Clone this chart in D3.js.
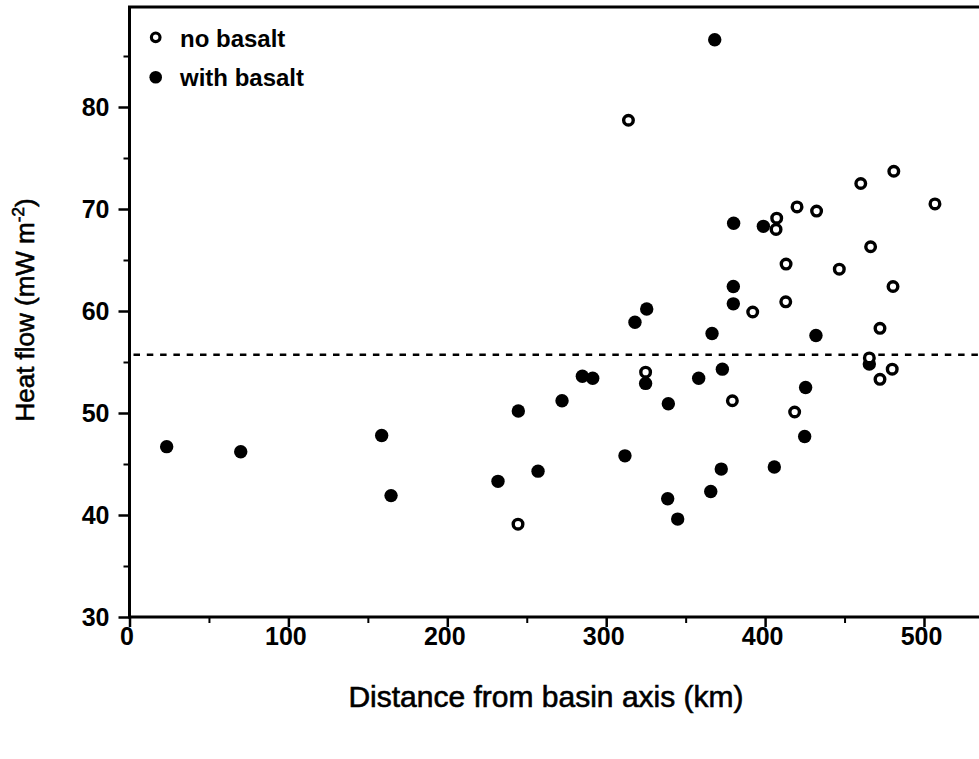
<!DOCTYPE html>
<html lang="en">
	<head>
		<meta charset="utf-8">
		<title>heat flow vs distance</title>
		<script type="text/javascript" src="https://cdn.jsdelivr.net/npm/d3@7/dist/d3.min.js"></script>
		<style type="text/css">
			body{margin:0;background:#fff}
			text{font-family:"Liberation Sans",Arial,sans-serif;fill:#000}
		</style>
	</head>
	<body>
		<div id="chart"></div>
		<script type="text/javascript">

// no basalt (open circles)
var openKm = [244.5,314,324.8,379.4,392.2,407.3,406.9,413.2,413.0,418.6,420.1,432.4,446.7,460.2,466.4,465.6,472.3,472.3,480.5,480,481,506.9]
var openHf = [39.1,78.7,54.0,51.2,59.9,69.1,68.0,64.6,60.9,50.1,70.2,69.8,64.1,72.5,66.3,55.4,58.3,53.3,62.4,54.3,73.7,70.5]

// with basalt (filled circles)
var filledKm = [23.4,70,158.7,164.6,231.9,244.7,257.1,272.2,285,291.5,311.8,318.1,325.5,324.8,339.1,338.7,345,358.2,365.8,366.6,368.3,372.4,373.1,380.2,380,380,398.9,405.8,425.5,424.9,432,465.6]
var filledHf = [46.7,46.2,47.8,41.9,43.3,50.2,44.3,51.2,53.6,53.4,45.8,58.9,60.2,52.9,50.9,41.6,39.6,53.4,42.3,57.8,86.6,44.5,54.3,68.6,62.4,60.7,68.3,44.7,52.5,47.7,57.6,54.8]

var meanHf = 55.7

var xMajor = [0,100,200,300,400,500]
var xMinor = [50,150,250,350,450]
var yMajor = [30,40,50,60,70,80]
var yMinor = [35,45,55,65,75,85]

var legendLabels = ["no basalt","with basalt"]

var w = 979
var h = 759
var left = 129.5
var bottom = 617
var plotTop = 7

var xScale = d3.scaleLinear().domain([0,500]).range([left,924])
var yScale = d3.scaleLinear().domain([30,80]).range([bottom,107])

var svg = d3.select("#chart").append("svg")
	.attr("width",w)
	.attr("height",h)

//x axis
var xAxis = d3.axisBottom(xScale).tickValues(xMajor).tickSize(10).tickSizeOuter(0).tickPadding(0)
var gx = svg.append("g")
	.attr("transform","translate(0,"+bottom+")")
	.call(xAxis)
gx.select(".domain").remove()
gx.selectAll(".tick line").attr("stroke","#000").attr("stroke-width",2.5)
gx.selectAll(".tick text").style("font-size","25px").style("font-weight","bold").attr("dx",-3)

var gxm = svg.append("g")
	.attr("transform","translate(0,"+bottom+")")
	.call(d3.axisBottom(xScale).tickValues(xMinor).tickSize(6).tickFormat(""))
gxm.select(".domain").remove()
gxm.selectAll(".tick line").attr("stroke","#000").attr("stroke-width",2)

//y axis
var yAxis = d3.axisLeft(yScale).tickValues(yMajor).tickSize(11).tickSizeOuter(0).tickPadding(9)
var gy = svg.append("g")
	.attr("transform","translate("+left+",0)")
	.call(yAxis)
gy.select(".domain").remove()
gy.selectAll(".tick line").attr("stroke","#000").attr("stroke-width",2.5)
gy.selectAll(".tick text").style("font-size","25px").style("font-weight","bold")

var gym = svg.append("g")
	.attr("transform","translate("+left+",0)")
	.call(d3.axisLeft(yScale).tickValues(yMinor).tickSize(6).tickFormat(""))
gym.select(".domain").remove()
gym.selectAll(".tick line").attr("stroke","#000").attr("stroke-width",2)

//frame
svg.append("path")
	.attr("d","M"+w+","+plotTop+"H"+left+"V"+bottom+"H"+w)
	.attr("fill","none")
	.attr("stroke","#000")
	.attr("stroke-width",3)

//mean line
svg.append("line")
	.attr("x1",left+4)
	.attr("x2",w)
	.attr("y1",yScale(meanHf))
	.attr("y2",yScale(meanHf))
	.attr("stroke","#000")
	.attr("stroke-width",2.5)
	.style("stroke-dasharray","6.5,6.8")

//points
var filled = filledKm.map(function(d,i){ return {km:d,hf:filledHf[i]} })
var open = openKm.map(function(d,i){ return {km:d,hf:openHf[i]} })

svg.selectAll(".filled")
	.data(filled)
	.enter()
	.append("circle")
	.attr("class","filled")
	.attr("cx",function(d){ return xScale(d.km) })
	.attr("cy",function(d){ return yScale(d.hf) })
	.attr("r",6.7)
	.attr("fill","#000")

svg.selectAll(".open")
	.data(open)
	.enter()
	.append("circle")
	.attr("class","open")
	.attr("cx",function(d){ return xScale(d.km) })
	.attr("cy",function(d){ return yScale(d.hf) })
	.attr("r",4.8)
	.attr("fill","#fff")
	.attr("stroke","#000")
	.attr("stroke-width",3.4)

//legend
var legend = svg.append("g")
legend.append("circle").attr("cx",155.7).attr("cy",37.3).attr("r",4.3)
	.attr("fill","#fff").attr("stroke","#000").attr("stroke-width",3.2)
legend.append("circle").attr("cx",155.7).attr("cy",77.3).attr("r",6.3).attr("fill","#000")
legend.selectAll("text")
	.data(legendLabels)
	.enter()
	.append("text")
	.attr("x",180)
	.attr("y",function(d,i){ return 47+i*39 })
	.style("font-size","24px")
	.style("font-weight","bold")
	.text(function(d){ return d })

//axis titles
svg.append("text")
	.attr("x",546)
	.attr("y",707)
	.attr("text-anchor","middle")
	.style("font-size","30px")
	.style("stroke","#000")
	.style("stroke-width","0.6px")
	.text("Distance from basin axis (km)")

var yTitle = svg.append("text")
	.attr("transform","translate(34,310) rotate(-90)")
	.attr("text-anchor","middle")
	.style("font-size","26px")
	.style("stroke","#000")
	.style("stroke-width","0.6px")
yTitle.append("tspan").text("Heat flow (mW m")
yTitle.append("tspan").attr("dy",-10).style("font-size","17px").text("-2")
yTitle.append("tspan").attr("dy",10).text(")")

		</script>
	</body>
</html>
